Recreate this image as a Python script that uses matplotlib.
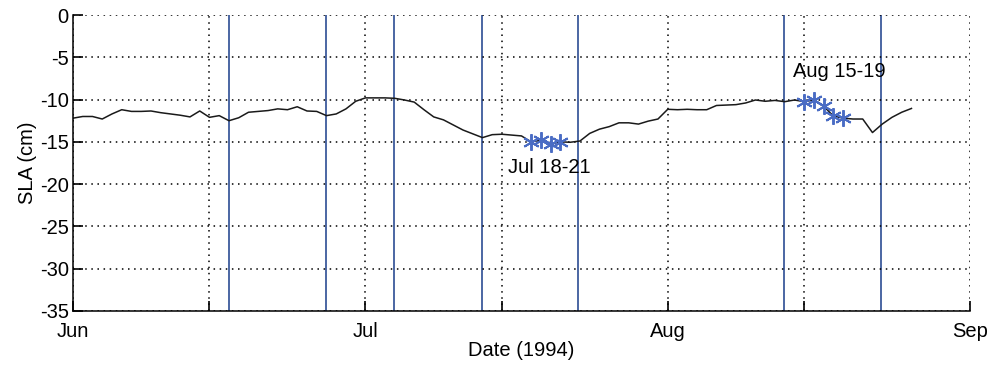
import numpy as np
import pandas as pd
import matplotlib
matplotlib.use("Agg")
import matplotlib.pyplot as plt

plt.rcParams["font.family"] = ["Liberation Sans", "DejaVu Sans"]

start = pd.Timestamp("1994-06-01")

# daily SLA (cm), Jun 1 onwards
sla = [-12.2, -12.0, -12.0, -12.3, -11.7, -11.2, -11.4, -11.4, -11.35, -11.55,
       -11.7, -11.85, -12.05, -11.35, -12.1, -11.9, -12.5, -12.15, -11.5, -11.4,
       -11.3, -11.1, -11.2, -10.85, -11.35, -11.4, -11.9, -11.7, -11.1, -10.2,
       -9.8, -9.8, -9.8, -9.85, -10.05, -10.3, -11.2, -12.05, -12.4, -13.0,
       -13.6, -14.05, -14.5, -14.15, -14.1, -14.2, -14.3, -15.0, -14.8, -15.25,
       -15.0, -15.05, -14.9, -14.0, -13.5, -13.2, -12.75, -12.75, -12.9, -12.55,
       -12.3, -11.15, -11.2, -11.15, -11.2, -11.2, -10.7, -10.65, -10.6, -10.4,
       -10.05, -10.2, -10.1, -10.25, -10.05, -10.25, -10.05, -10.8, -11.95, -12.2,
       -12.3, -12.3, -13.9, -12.9, -12.1, -11.5, -11.05]
dates = pd.date_range(start, periods=len(sla), freq="D")

# highlighted days (stars)
star_days = [47, 48, 49, 50, 75, 76, 77, 78, 79]

# vertical markers, days after Jun 1
vline_days = [16.0, 25.9, 32.9, 42.0, 51.8, 72.9, 82.9]

tick_dates = ["1994-06-01", "1994-06-15", "1994-07-01", "1994-07-15",
              "1994-08-01", "1994-08-15", "1994-09-01"]
tick_labels = ["Jun", "", "Jul", "", "Aug", "", "Sep"]
yticks = [0, -5, -10, -15, -20, -25, -30, -35]

fig = plt.figure(figsize=(9.93, 3.68), dpi=100)
ax = fig.add_axes([0.0735, 0.155, 0.9033, 0.8042])

for d in vline_days:
    ax.axvline(start + pd.Timedelta(days=d), color="#3d5b9c", lw=1.3, zorder=1)

ax.plot(dates, sla, color="#1a1a1a", lw=1.1, zorder=2)
ax.plot(dates[star_days], np.array(sla)[star_days], ls="none",
        marker=(6, 2, 0), ms=12, mew=1.4, color="#4a6cc4", zorder=3)

ax.text(start + pd.Timedelta(days=44.6), -18.0, "Jul 18-21",
        fontsize=14.5, va="center", ha="left")
ax.text(start + pd.Timedelta(days=73.8), -6.7, "Aug 15-19",
        fontsize=14.5, va="center", ha="left")

ax.set_xlim(pd.Timestamp("1994-06-01"), pd.Timestamp("1994-09-01"))
ax.set_ylim(-35, 0)
ax.set_xticks(pd.to_datetime(tick_dates))
ax.set_xticklabels(tick_labels)
ax.set_yticks(yticks)
ax.set_yticklabels([str(v) for v in yticks])
ax.tick_params(direction="in", length=7, width=1.2, labelsize=14.5, pad=3)
ax.tick_params(axis="x", pad=8)

ax.grid(True, color="black", ls=(0, (1, 3)), lw=1.1)
ax.spines["top"].set_visible(False)
ax.spines["right"].set_visible(False)
ax.spines["left"].set_linewidth(1.1)
ax.spines["bottom"].set_linewidth(1.1)

ax.set_xlabel("Date (1994)", fontsize=14.5, labelpad=0)
ax.set_ylabel("SLA (cm)", fontsize=14.5, labelpad=2)

fig.savefig("out.png", dpi=100)
